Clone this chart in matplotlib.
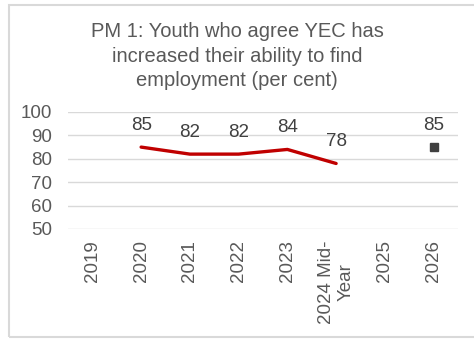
import matplotlib.pyplot as plt
from matplotlib.patches import Rectangle

plt.rcParams['font.family'] = ['Liberation Sans', 'DejaVu Sans']

years = ['2019', '2020', '2021', '2022', '2023', '2024 Mid-\nYear', '2025', '2026']
actual_idx = [1, 2, 3, 4, 5]
actual = [85, 82, 82, 84, 78]
target_idx = [7]
target = [85]

W, H = 474, 339
fig = plt.figure(figsize=(W / 100, H / 100), dpi=100)

# light frame around the whole chart (open on the right)
fig.add_artist(Rectangle((8.5 / W, 1 - 337 / H), 1.0, (337 - 4.5) / H,
                         transform=fig.transFigure, fill=False,
                         edgecolor='#d9d9d9', linewidth=1.5))

ax = fig.add_axes([68 / W, 1 - 229 / H, (458 - 68) / W, (229 - 112) / H])

ax.plot(actual_idx, actual, color='#c00000', linewidth=2.4, solid_capstyle='round')
ax.plot(target_idx, target, linestyle='none', marker='s', markersize=6,
        color='#404040')

for x, v in zip(actual_idx + target_idx, actual + target):
    ax.annotate(str(v), (x, v), xytext=(0, 15.5), textcoords='offset points',
                ha='center', va='center', fontsize=13.5, color='#404040')

ax.set_xlim(-0.5, len(years) - 0.5)
ax.set_ylim(50, 100)
ax.set_yticks(range(50, 101, 10))
ax.set_xticks(range(len(years)))
ax.set_xticklabels(years, rotation=90, va='top', ha='center',
                   linespacing=1.2)
ax.tick_params(axis='both', length=0, labelsize=13.5, labelcolor='#595959')
ax.tick_params(axis='y', pad=11.5)
ax.tick_params(axis='x', pad=8)
ax.grid(axis='y', color='#d9d9d9', linewidth=1)
ax.set_axisbelow(True)
for s in ax.spines.values():
    s.set_visible(False)

fig.text(237 / W, 1 - 56 / H,
         'PM 1: Youth who agree YEC has\nincreased their ability to find\nemployment (per cent)',
         ha='center', va='center', fontsize=14.5, color='#595959',
         linespacing=1.35)

fig.savefig('out.png', dpi=100)
